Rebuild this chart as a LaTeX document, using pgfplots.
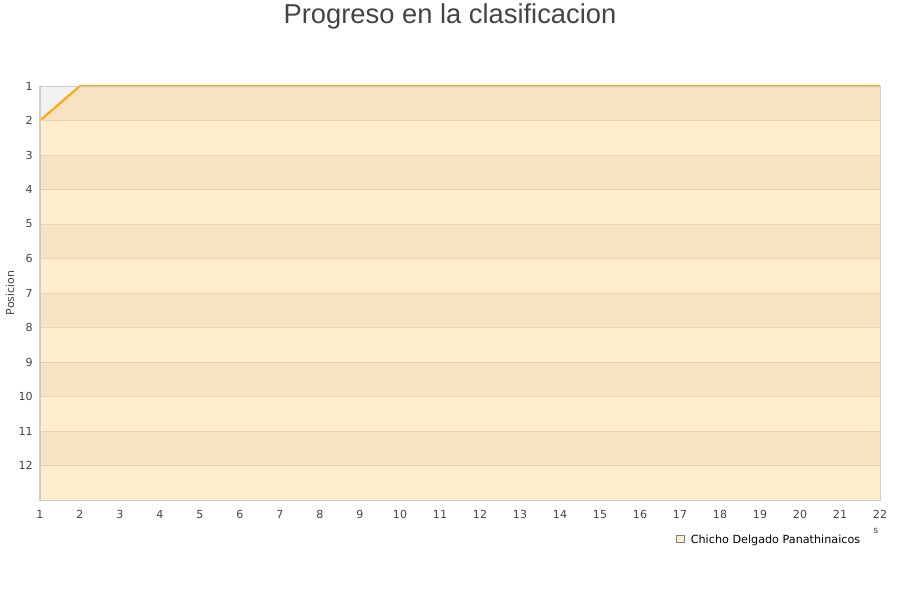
\documentclass[border=0pt]{standalone}
\usepackage{pgfplots}
\pgfplotsset{compat=1.18}
\usepackage{fontspec}
\setmainfont{DejaVu Sans}
\newfontfamily\titlefont{Liberation Sans}
\definecolor{bandA}{HTML}{F5E3C2}
\definecolor{bandB}{HTML}{FFEDCC}
\definecolor{gridc}{HTML}{E8D4B0}
\definecolor{linec}{HTML}{FFA500}
\definecolor{txt}{HTML}{444444}
\definecolor{bord}{HTML}{CCCCCC}
\definecolor{topg}{HTML}{F2F2F2}
\begin{document}
\begin{tikzpicture}
\useasboundingbox (0,0) rectangle (675pt,450pt);
\node[font=\titlefont\fontsize{20.5}{24}\selectfont, text=txt] at (337.5pt,438pt) {Progreso en la clasificacion};
\begin{axis}[
  at={(30pt,75pt)}, anchor=south west,
  scale only axis, width=630pt, height=310.5pt,
  xmin=1, xmax=22, ymin=1, ymax=13, y dir=reverse,
  xtick={1,...,22}, ytick={1,...,12},
  major tick length=0pt,
  axis on top,
  ymajorgrids, major grid style={gridc, line width=0.5pt},
  axis line style={bord, line width=0.75pt},
  tick label style={font=\fontsize{8.3}{10}\selectfont, text=txt},
  /pgf/number format/assume math mode=true,
  xticklabel style={yshift=-4.5pt},
  yticklabel style={xshift=-2pt},
  ylabel={Posicion},
  every axis y label/.style={at={(rel axis cs:0,0.5)}, xshift=-22.5pt, rotate=90, anchor=center,
     font=\fontsize{8.2}{9}\selectfont, text=txt},
  legend style={at={(rel axis cs:0.757,-0.094)}, anchor=west, draw=none, fill=none,
     font=\fontsize{8.4}{10}\selectfont, inner sep=0pt,
     nodes={inner sep=0pt, text depth=0pt}},
  legend cell align=left,
  clip mode=individual,
]
\addplot[fill=bandA, draw=none, forget plot] coordinates {(1,1) (22,1) (22,2) (1,2)} -- cycle;
\addplot[fill=bandB, draw=none, forget plot] coordinates {(1,2) (22,2) (22,3) (1,3)} -- cycle;
\addplot[fill=bandA, draw=none, forget plot] coordinates {(1,3) (22,3) (22,4) (1,4)} -- cycle;
\addplot[fill=bandB, draw=none, forget plot] coordinates {(1,4) (22,4) (22,5) (1,5)} -- cycle;
\addplot[fill=bandA, draw=none, forget plot] coordinates {(1,5) (22,5) (22,6) (1,6)} -- cycle;
\addplot[fill=bandB, draw=none, forget plot] coordinates {(1,6) (22,6) (22,7) (1,7)} -- cycle;
\addplot[fill=bandA, draw=none, forget plot] coordinates {(1,7) (22,7) (22,8) (1,8)} -- cycle;
\addplot[fill=bandB, draw=none, forget plot] coordinates {(1,8) (22,8) (22,9) (1,9)} -- cycle;
\addplot[fill=bandA, draw=none, forget plot] coordinates {(1,9) (22,9) (22,10) (1,10)} -- cycle;
\addplot[fill=bandB, draw=none, forget plot] coordinates {(1,10) (22,10) (22,11) (1,11)} -- cycle;
\addplot[fill=bandA, draw=none, forget plot] coordinates {(1,11) (22,11) (22,12) (1,12)} -- cycle;
\addplot[fill=bandB, draw=none, forget plot] coordinates {(1,12) (22,12) (22,13) (1,13)} -- cycle;
\addplot[fill=topg, draw=none, forget plot] coordinates {(1,1) (2,1) (1,2)} -- cycle;
\addplot[linec, line width=1.5pt, forget plot, clip=false] coordinates {
 (1,2) (2,1) (3,1) (4,1) (5,1) (6,1) (7,1) (8,1) (9,1) (10,1) (11,1)
 (12,1) (13,1) (14,1) (15,1) (16,1) (17,1) (18,1) (19,1) (20,1) (21,1) (22,1)};
\addlegendimage{legend image code/.code={\draw[fill=bandB, draw=gray, line width=0.4pt] (-4pt,-2.8pt) rectangle (1.6pt,2.8pt);}}
\addlegendentry{\hspace{5pt}Chicho Delgado Panathinaicos}
\node[font=\fontsize{7}{8}\selectfont, text=txt] at (rel axis cs:0.995,-0.075) {s};
\end{axis}
\end{tikzpicture}
\end{document}
